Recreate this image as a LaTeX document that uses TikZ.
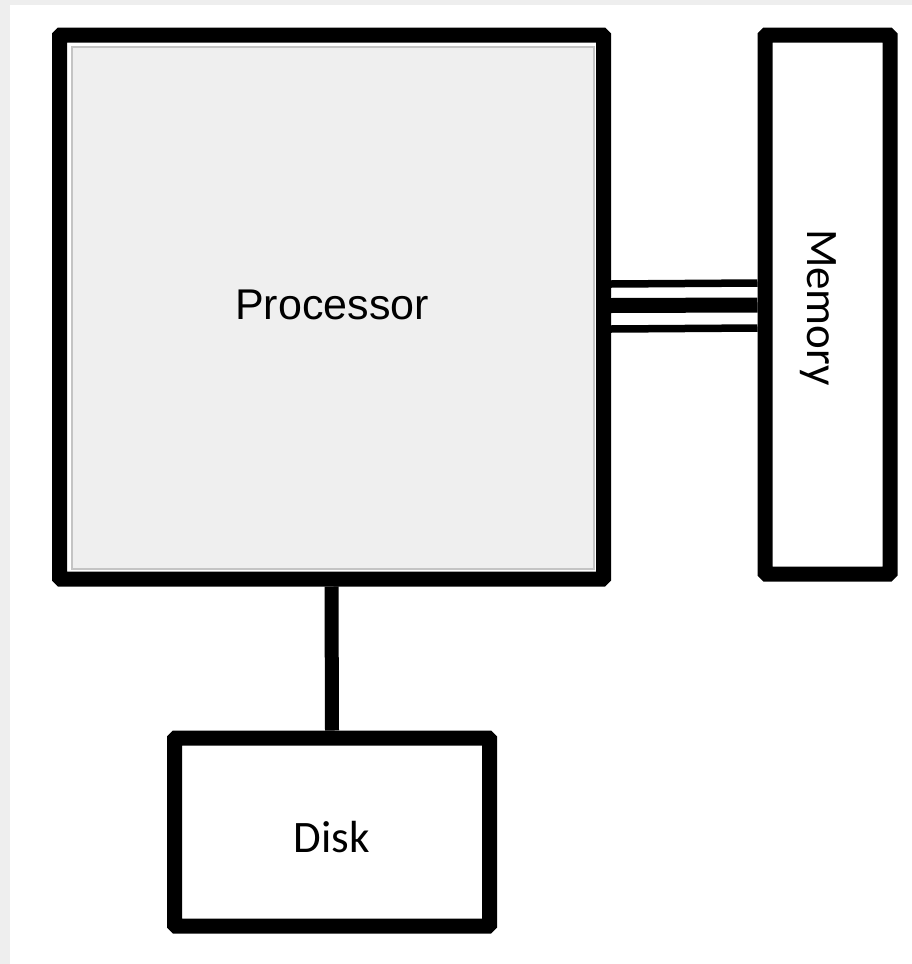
\documentclass[tikz,border=0pt]{standalone}
\usepackage{fontspec}
\newfontfamily\arialf{Liberation Sans}
\newfontfamily\calf{Carlito}
\definecolor{bggrey}{HTML}{EEEEEE}
\definecolor{procgrey}{HTML}{EFEFEF}
\definecolor{edgegrey}{HTML}{C4C4C4}
\begin{document}
\begin{tikzpicture}[x=1pt,y=-1pt,
  blackbox/.style={draw=black, line width=15pt, rounded corners=1.5pt, fill=white, inner sep=0pt},
  bus/.style={draw=black, line cap=butt},
  lbl/.style={inner sep=0pt, text=black}]
\useasboundingbox (0,0) rectangle (912,964);
\fill[bggrey] (0,0) rectangle (912,964);
\fill[white] (10,5) rectangle (912,964);
% boxes
\node[blackbox, minimum width=544pt, minimum height=544pt] (proc) at (331.5,307) {};
\node[draw=edgegrey, line width=1.5pt, fill=procgrey, minimum width=522pt, minimum height=522pt, inner sep=0pt] (procin) at (333,308) {};
\node[blackbox, minimum width=125pt, minimum height=539pt] (mem) at (827.5,304.5) {};
\node[blackbox, minimum width=315pt, minimum height=188pt] (disk) at (332,832) {};
% texts
\node[lbl, font=\arialf\fontsize{43}{50}\selectfont] (ptext) at (332,305) {Processor};
\node[lbl, font=\calf\fontsize{45}{52}\selectfont, rotate=-90, anchor=base] (mtext) at (807,307.5) {Memory};
\node[lbl, font=\calf\fontsize{45}{52}\selectfont] (dtext) at (332,837) {Disk};
% connectors
\draw[bus, line width=7.5pt] ([yshift=23pt]proc.east) -- ([yshift=21.5pt]mem.west);
\draw[bus, line width=15pt] ([yshift=1.5pt]proc.east) -- ([yshift=-0.5pt]mem.west);
\draw[bus, line width=7.5pt] ([yshift=-22pt]proc.east) -- ([yshift=-23.5pt]mem.west);
\draw[bus, line width=14pt] (proc.south) -- (disk.north);
\end{tikzpicture}
\end{document}
